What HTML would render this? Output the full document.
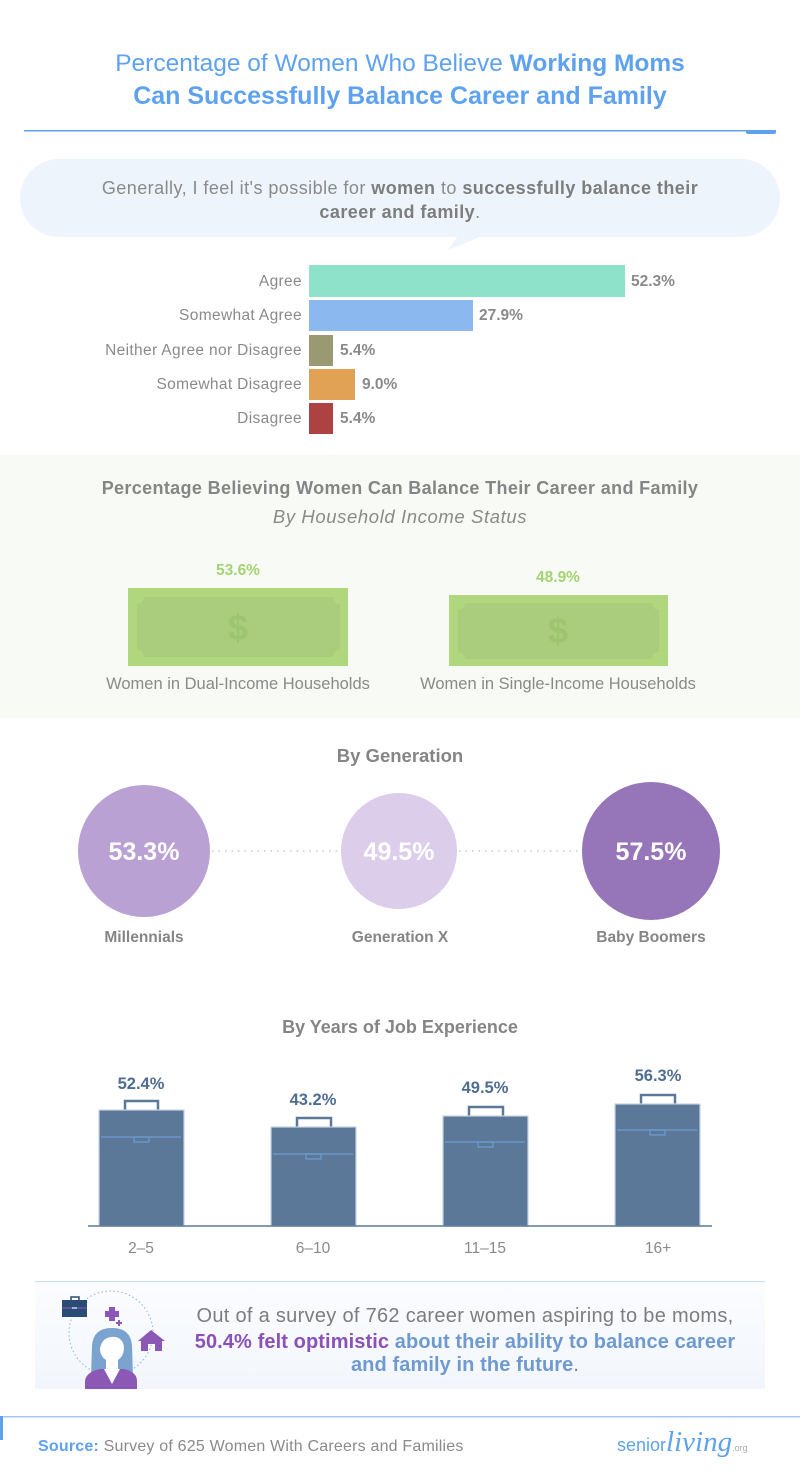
<!DOCTYPE html>
<html>
<head>
<meta charset="utf-8">
<style>
  html,body{margin:0;padding:0;background:#fff;}
  body{width:800px;height:1471px;overflow:hidden;}
  svg{display:block;}
  text{font-family:"Liberation Sans",sans-serif;}
</style>
</head>
<body>
<svg width="800" height="1471" viewBox="0 0 800 1471" xmlns="http://www.w3.org/2000/svg">
  <rect x="0" y="0" width="800" height="1471" fill="#ffffff"/>

  <!-- Title -->
  <text x="400" y="71" text-anchor="middle" font-size="24.5" fill="#5ea2ef"><tspan>Percentage of Women Who Believe </tspan><tspan font-weight="bold">Working Moms</tspan></text>
  <text x="400" y="104" text-anchor="middle" font-size="25" font-weight="bold" fill="#5ea2ef">Can Successfully Balance Career and Family</text>
  <rect x="24" y="130" width="752" height="1.5" fill="#5ea2ef"/>
  <path d="M746 130 H776 V132 Q776 134 774 134 H748 Q746 134 746 132 Z" fill="#5ea2ef"/>

  <!-- Speech bubble -->
  <rect x="20" y="159" width="760" height="78" rx="39" ry="39" fill="#edf4fc"/>
  <polygon points="458,236 482,236 448,250" fill="#edf4fc"/>
  <text x="400" y="194" text-anchor="middle" font-size="18" letter-spacing="0.45" fill="#8a8a8a"><tspan>Generally, I feel it's possible for </tspan><tspan font-weight="bold" fill="#7d7d7d">women</tspan><tspan> to </tspan><tspan font-weight="bold" fill="#7d7d7d">successfully balance their</tspan></text>
  <text x="400" y="218" text-anchor="middle" font-size="18" letter-spacing="0.45" font-weight="bold" fill="#7d7d7d">career and family<tspan font-weight="normal" fill="#8a8a8a">.</tspan></text>

  <!-- Horizontal bar chart -->
  <g font-size="15.5" letter-spacing="0.35" fill="#8a8a8a" text-anchor="end">
    <text x="302" y="286">Agree</text>
    <text x="302" y="320">Somewhat Agree</text>
    <text x="302" y="355">Neither Agree nor Disagree</text>
    <text x="302" y="389">Somewhat Disagree</text>
    <text x="302" y="423">Disagree</text>
  </g>
  <rect x="309" y="265" width="316" height="32" fill="#8ee2c9"/>
  <rect x="309" y="300" width="164" height="31" fill="#8ab8ef"/>
  <rect x="309" y="335" width="24" height="31" fill="#9a9a72"/>
  <rect x="309" y="369" width="46" height="31" fill="#e1a256"/>
  <rect x="309" y="403" width="24" height="31" fill="#ad4242"/>
  <g font-size="15.5" font-weight="bold" fill="#8a8a8a">
    <text x="631" y="286">52.3%</text>
    <text x="479" y="320">27.9%</text>
    <text x="340" y="355">5.4%</text>
    <text x="362" y="389">9.0%</text>
    <text x="340" y="423">5.4%</text>
  </g>

  <!-- Household income section -->
  <rect x="0" y="455" width="800" height="263" fill="#f8faf5"/>
  <text x="400" y="494" text-anchor="middle" font-size="18" letter-spacing="0.35" font-weight="bold" fill="#858585">Percentage Believing Women Can Balance Their Career and Family</text>
  <text x="400" y="523" text-anchor="middle" font-size="18.5" letter-spacing="0.6" font-style="italic" fill="#8a8a8a">By Household Income Status</text>

  <text x="238" y="575" text-anchor="middle" font-size="15.5" font-weight="bold" fill="#a3d474">53.6%</text>
  <rect x="128" y="588" width="220" height="78" fill="#b0d77d"/>
  <rect x="137" y="597" width="203" height="60" fill="#a9cc7d"/>
  <g fill="#b0d77d">
    <circle cx="137" cy="597" r="7"/><circle cx="340" cy="597" r="7"/>
    <circle cx="137" cy="657" r="7"/><circle cx="340" cy="657" r="7"/>
  </g>
  <text x="238" y="640" text-anchor="middle" font-size="36" font-weight="bold" fill="#9dc46f">$</text>
  <text x="238" y="689" text-anchor="middle" font-size="16.5" fill="#8a8a8a">Women in Dual-Income Households</text>

  <text x="558" y="582" text-anchor="middle" font-size="15.5" font-weight="bold" fill="#a3d474">48.9%</text>
  <rect x="449" y="595" width="219" height="71" fill="#b0d77d"/>
  <rect x="458" y="603" width="201" height="56" fill="#a9cc7d"/>
  <g fill="#b0d77d">
    <circle cx="458" cy="603" r="7"/><circle cx="659" cy="603" r="7"/>
    <circle cx="458" cy="659" r="7"/><circle cx="659" cy="659" r="7"/>
  </g>
  <text x="558" y="643" text-anchor="middle" font-size="36" font-weight="bold" fill="#9dc46f">$</text>
  <text x="558" y="689" text-anchor="middle" font-size="16.5" fill="#8a8a8a">Women in Single-Income Households</text>

  <!-- By Generation -->
  <text x="400" y="762" text-anchor="middle" font-size="18.5" font-weight="bold" fill="#858585">By Generation</text>
  <line x1="212" y1="851" x2="340" y2="851" stroke="#c9c9c9" stroke-width="1.5" stroke-dasharray="1.5 5"/>
  <line x1="459" y1="851" x2="581" y2="851" stroke="#c9c9c9" stroke-width="1.5" stroke-dasharray="1.5 5"/>
  <circle cx="144" cy="851" r="66" fill="#b9a1d3"/>
  <circle cx="399" cy="851" r="58" fill="#dccdea"/>
  <circle cx="651" cy="851" r="69" fill="#9675b9"/>
  <g font-size="25" font-weight="bold" fill="#ffffff" text-anchor="middle">
    <text x="144" y="860">53.3%</text>
    <text x="399" y="860">49.5%</text>
    <text x="651" y="860">57.5%</text>
  </g>
  <g font-size="15.5" font-weight="bold" fill="#858585" text-anchor="middle">
    <text x="144" y="942">Millennials</text>
    <text x="400" y="942">Generation X</text>
    <text x="651" y="942">Baby Boomers</text>
  </g>

  <!-- By Years of Job Experience -->
  <text x="400" y="1033" text-anchor="middle" font-size="18" font-weight="bold" fill="#858585">By Years of Job Experience</text>
  <g stroke="#5b7898" stroke-width="2.5" fill="none">
    <rect x="125" y="1101" width="33" height="10"/>
    <rect x="297" y="1118" width="34" height="10"/>
    <rect x="469" y="1107" width="34" height="10"/>
    <rect x="641" y="1095" width="34" height="10"/>
  </g>
  <g fill="#5b7898" stroke="#c9d3de" stroke-width="1.2">
    <rect x="99" y="1110" width="85" height="116"/>
    <rect x="271" y="1127" width="85" height="99"/>
    <rect x="443" y="1116" width="85" height="110"/>
    <rect x="615" y="1104" width="85" height="122"/>
  </g>
  <g stroke="#6e9dd3" stroke-width="1.2" fill="none">
    <line x1="101" y1="1137" x2="181" y2="1137"/>
    <rect x="134" y="1137" width="15" height="5"/>
    <line x1="273" y1="1154" x2="353" y2="1154"/>
    <rect x="306" y="1154" width="15" height="5"/>
    <line x1="445" y1="1142" x2="525" y2="1142"/>
    <rect x="478" y="1142" width="15" height="5"/>
    <line x1="617" y1="1130" x2="697" y2="1130"/>
    <rect x="650" y="1130" width="15" height="5"/>
  </g>
  <line x1="88" y1="1226" x2="712" y2="1226" stroke="#5b7898" stroke-width="1.5"/>
  <g font-size="16.5" font-weight="bold" fill="#4f6d91" text-anchor="middle">
    <text x="141" y="1089">52.4%</text>
    <text x="313" y="1105">43.2%</text>
    <text x="485" y="1093">49.5%</text>
    <text x="658" y="1081">56.3%</text>
  </g>
  <g font-size="15.5" fill="#8a8a8a" text-anchor="middle">
    <text x="141" y="1253">2–5</text>
    <text x="313" y="1253">6–10</text>
    <text x="485" y="1253">11–15</text>
    <text x="658" y="1253">16+</text>
  </g>

  <!-- Bottom panel -->
  <defs>
    <linearGradient id="pg" x1="0" y1="0" x2="0" y2="1">
      <stop offset="0" stop-color="#fbfcfe"/>
      <stop offset="1" stop-color="#f2f6fc"/>
    </linearGradient>
  </defs>
  <rect x="35" y="1281" width="730" height="1.2" fill="#c8dcf5"/>
  <rect x="35" y="1283" width="730" height="106" fill="url(#pg)"/>

  <!-- icon -->
  <circle cx="111" cy="1333" r="42" fill="none" stroke="#8fb3dc" stroke-width="1" stroke-dasharray="1.5 2.5"/>
  <rect x="71" y="1297" width="8" height="4" fill="none" stroke="#2a4b74" stroke-width="1.5"/>
  <rect x="62" y="1300" width="25" height="17" fill="#2a4b74"/>
  <line x1="62" y1="1308" x2="87" y2="1308" stroke="#8b58b6" stroke-width="1"/>
  <rect x="72" y="1307" width="5" height="2" fill="#9bb3d6"/>
  <rect x="109" y="1307" width="6" height="14" fill="#8b58b6"/>
  <rect x="105" y="1311" width="14" height="6" fill="#8b58b6"/>
  <rect x="118" y="1320" width="2" height="6" fill="#8b58b6"/>
  <rect x="116" y="1322" width="6" height="2" fill="#8b58b6"/>
  <polygon points="151,1330 165,1341 162,1341 162,1351 155,1351 155,1344 148,1344 148,1351 141,1351 141,1341 138,1341" fill="#8b58b6"/>
  <path d="M91 1378 L92 1346 Q93 1328 112 1328 Q131 1328 132 1346 L133 1378 Z" fill="#7aa3cf"/>
  <path d="M101 1345 Q104 1336 116 1337 Q123 1339 124 1347 Q124 1360 112 1362 Q100 1360 100 1348 Z" fill="#ffffff"/>
  <rect x="106" y="1357" width="12" height="14" fill="#ffffff"/>
  <path d="M85 1389 L85 1381 Q86 1372 100 1369 L112 1369 L124 1369 Q137 1372 137 1381 L137 1389 Z" fill="#8b58b6"/>
  <polygon points="104,1369 120,1369 112,1384" fill="#ffffff"/>

  <g font-size="20" text-anchor="middle">
    <text x="465" y="1322" letter-spacing="0.3" fill="#7d7d7d">Out of a survey of 762 career women aspiring to be moms,</text>
    <text x="465" y="1348" letter-spacing="0.1" font-weight="bold"><tspan fill="#8a52b8">50.4% felt optimistic</tspan><tspan fill="#6e9ad0"> about their ability to balance career</tspan></text>
    <text x="465" y="1371" letter-spacing="0.1" font-weight="bold" fill="#6e9ad0">and family in the future<tspan fill="#7d7d7d" font-weight="normal">.</tspan></text>
  </g>

  <!-- Footer -->
  <rect x="0" y="1416" width="800" height="1.5" fill="#a8c8f0"/>
  <rect x="0" y="1416" width="3" height="24" fill="#5ea2ef"/>
  <text x="38" y="1451" font-size="16" letter-spacing="0.2" fill="#8a8a8a"><tspan font-weight="bold" fill="#5ea2ef">Source:</tspan> Survey of 625 Women With Careers and Families</text>
  <text x="617" y="1451" font-size="18" fill="#5ea2ef">senior<tspan font-family="Liberation Serif, serif" font-style="italic" font-size="29">living</tspan><tspan font-size="9" fill="#aaaaaa">.org</tspan></text>
</svg>
</body>
</html>
